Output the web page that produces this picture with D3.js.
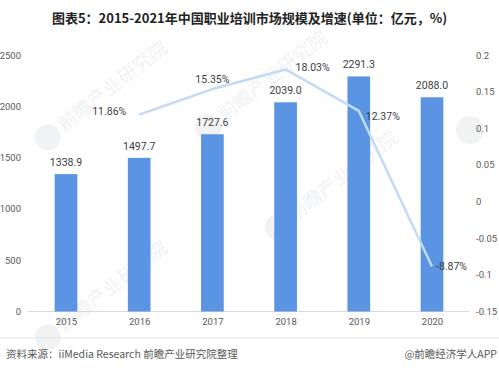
<!DOCTYPE html>
<html>
<head>
<meta charset="utf-8">
<script src="https://cdn.jsdelivr.net/npm/d3@7/dist/d3.min.js"></script>
<style>
  body { margin: 0; background: #fff; }
  text { font-family: "Noto Sans CJK SC", "Noto Sans", sans-serif; }
</style>
</head>
<body>
<div id="chart"></div>
<script>
// 数据
const years = ["2015", "2016", "2017", "2018", "2019", "2020"]
const marketSize = [1338.9, 1497.7, 1727.6, 2039.0, 2291.3, 2088.0]
// 增速 (2015 没有)
const growthYears = ["2016", "2017", "2018", "2019", "2020"]
const growthRate = [0.1186, 0.1535, 0.1803, 0.1237, -0.0887]
const leftTicks = [0, 500, 1000, 1500, 2000, 2500]
const rightTicks = [-0.15, -0.1, -0.05, 0, 0.05, 0.1, 0.15, 0.2]

const width = 499
const height = 370

const svg = d3.select('#chart').append('svg')
    .attr('width', width)
    .attr('height', height)

// 水印
const wm = svg.append('g').attr('class', 'watermark')
const wmPos = [[70, 120], [300, 210], [70, 320], [230, 110]]
wmPos.forEach(([x, y]) => {
    const g = wm.append('g').attr('transform', `translate(${x},${y}) rotate(-38)`)
    g.append('circle').attr('cx', -28).attr('cy', 0).attr('r', 13)
        .attr('fill', '#f0f2f4')
    g.append('text').attr('x', -12).attr('y', 6)
        .attr('font-size', 19).attr('fill', '#f0f2f4')
        .text('前瞻产业研究院')
})
// 右侧只露出圆形标志
wm.append('circle').attr('cx', 470).attr('cy', 130).attr('r', 14)
    .attr('fill', '#f0f2f4')

// 标题
svg.append('text')
    .attr('x', width / 2)
    .attr('y', 23)
    .attr('text-anchor', 'middle')
    .attr('font-size', 13)
    .attr('font-weight', 'bold')
    .attr('fill', '#222')
    .text('图表5：2015-2021年中国职业培训市场规模及增速(单位：亿元，%)')

const x = d3.scalePoint()
    .domain(years)
    .range([29.4, 468.6])
    .padding(0.5)

const barW = x.step() * 0.31

const yL = d3.scaleLinear().domain([0, 2500]).range([311.5, 55])
const yR = d3.scaleLinear().domain([-0.15, 0.2]).range([311.5, 55])

const tickFont = 'Roboto, "Noto Sans", sans-serif'

// 左轴
const leftAxis = svg.append('g')
    .attr('transform', 'translate(21,0)')
    .call(d3.axisLeft(yL).tickValues(leftTicks).tickSize(0).tickPadding(0)
        .tickFormat(d3.format('d')))
leftAxis.select('.domain').remove()
leftAxis.selectAll('text')
    .attr('font-size', 9.5).attr('fill', '#595959')
    .style('font-family', tickFont)

// 右轴
const rightAxis = svg.append('g')
    .attr('transform', 'translate(476,0)')
    .call(d3.axisRight(yR).tickValues(rightTicks).tickSize(0).tickPadding(0)
        .tickFormat(d => String(+d.toFixed(2))))
rightAxis.select('.domain').remove()
rightAxis.selectAll('text')
    .attr('font-size', 9.5).attr('fill', '#595959')
    .style('font-family', tickFont)

// 底轴
svg.append('line')
    .attr('x1', 28).attr('x2', 469)
    .attr('y1', yL(0)).attr('y2', yL(0))
    .attr('stroke', '#d9d9d9').attr('stroke-width', 1)

const bottomAxis = svg.append('g')
    .attr('transform', `translate(0,${yL(0)})`)
    .call(d3.axisBottom(x).tickSize(0).tickPadding(7))
bottomAxis.select('.domain').remove()
bottomAxis.selectAll('text')
    .attr('font-size', 9.5).attr('fill', '#595959')
    .style('font-family', tickFont)

// 柱子
svg.append('g')
    .selectAll('rect')
    .data(years)
    .enter()
    .append('rect')
    .attr('x', d => x(d) - barW / 2)
    .attr('y', (d, i) => yL(marketSize[i]))
    .attr('width', barW)
    .attr('height', (d, i) => yL(0) - yL(marketSize[i]))
    .attr('fill', '#5b94e2')

svg.append('g')
    .selectAll('text')
    .data(years)
    .enter()
    .append('text')
    .attr('x', d => x(d))
    .attr('y', (d, i) => yL(marketSize[i]) - 8)
    .attr('text-anchor', 'middle')
    .attr('font-size', 10.5)
    .attr('fill', '#404040')
    .style('font-family', tickFont)
    .text((d, i) => marketSize[i].toFixed(1))

// 增速折线
const line = d3.line()
    .x(d => x(d[0]))
    .y(d => yR(d[1]))

svg.append('path')
    .datum(growthYears.map((d, i) => [d, growthRate[i]]))
    .attr('d', line)
    .attr('fill', 'none')
    .attr('stroke', '#c3daf4')
    .attr('stroke-width', 2.5)
    .attr('stroke-linejoin', 'round')

// 增速标签位置偏移
const labelOffset = [[-30, -3, 'middle'], [0, -10, 'middle'], [10, -2, 'start'], [7, 5, 'start'], [4, 0, 'start']]
svg.append('g')
    .selectAll('text')
    .data(growthYears)
    .enter()
    .append('text')
    .attr('x', (d, i) => x(d) + labelOffset[i][0])
    .attr('y', (d, i) => yR(growthRate[i]) + labelOffset[i][1])
    .attr('dy', '0.35em')
    .attr('text-anchor', (d, i) => labelOffset[i][2])
    .attr('font-size', 10.5)
    .attr('fill', '#404040')
    .style('font-family', tickFont)
    .text((d, i) => (growthRate[i] * 100).toFixed(2) + '%')

// 分隔线和来源
svg.append('line')
    .attr('x1', 0).attr('x2', width)
    .attr('y1', 338).attr('y2', 338)
    .attr('stroke', '#e3e3e3')

svg.append('text')
    .attr('x', 6).attr('y', 358)
    .attr('font-size', 10.5).attr('fill', '#595959')
    .text('资料来源：iiMedia Research 前瞻产业研究院整理')

svg.append('text')
    .attr('x', 497).attr('y', 358)
    .attr('text-anchor', 'end')
    .attr('font-size', 10.5).attr('fill', '#595959')
    .text('@前瞻经济学人APP')
</script>
</body>
</html>
